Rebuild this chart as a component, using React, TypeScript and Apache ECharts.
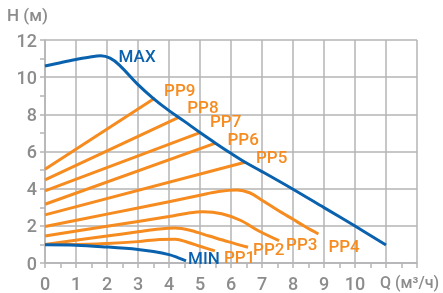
import React, { useEffect, useRef } from "react";
import * as echarts from "echarts";

const xTicks = [0, 1, 2, 3, 4, 5, 6, 7, 8, 9, 10];
const yTicks = [0, 2, 4, 6, 8, 10, 12];

const maxCurve = [[0, 10.6], [0.5, 10.78], [1, 10.95], [1.5, 11.1], [1.8, 11.15], [2.1, 11.02], [2.4, 10.65], [3, 9.6], [3.5, 8.85], [4, 8.2], [4.5, 7.62], [5, 7.02], [5.5, 6.45], [6, 5.9], [6.5, 5.38], [7, 4.92], [8, 3.97], [9, 2.98], [10, 1.99], [11, 0.97]];
const maxLabelAt = [2.1, 11.02];
const minCurve = [[0, 0.98], [1, 0.96], [2, 0.86], [3, 0.73], [3.5, 0.62], [4, 0.45], [4.3, 0.28], [4.55, 0.12]];
const pp9 = [[0, 5.05], [3.55, 8.88]];
const pp8 = [[0, 4.47], [4.33, 7.85]];
const pp7 = [[0, 3.88], [5.0, 7.02]];
const pp6 = [[0, 3.16], [5.5, 6.45]];
const pp5 = [[0, 2.59], [6.45, 5.42]];
const pp4 = [[0, 1.96], [2, 2.63], [4, 3.3], [5, 3.65], [5.6, 3.85], [6.2, 3.93], [6.6, 3.78], [7, 3.38], [7.5, 2.85], [8, 2.35], [8.4, 1.95], [8.82, 1.56]];
const pp3 = [[0, 1.45], [2, 1.98], [4, 2.5], [4.6, 2.68], [5.1, 2.76], [5.7, 2.65], [6.3, 2.3], [6.9, 1.72], [7.55, 1.2]];
const pp2 = [[0, 1.0], [2, 1.45], [3, 1.68], [3.7, 1.83], [4.2, 1.88], [4.7, 1.75], [5.3, 1.45], [5.9, 1.15], [6.55, 0.85]];
const pp1 = [[0, 1.0], [1, 1.0], [2, 1.05], [3, 1.15], [3.7, 1.27], [4.2, 1.28], [4.6, 1.12], [5, 0.9], [5.48, 0.65]];

const ppSeries = [
  { name: "PP9", data: pp9, offset: [1, -8] },
  { name: "PP8", data: pp8, offset: [0, -10] },
  { name: "PP7", data: pp7, offset: [2, -12] },
  { name: "PP6", data: pp6, offset: [4, -4] },
  { name: "PP5", data: pp5, offset: [3, -5] },
  { name: "PP4", data: pp4, offset: [2, 12] },
  { name: "PP3", data: pp3, offset: [-1, 3] },
  { name: "PP2", data: pp2, offset: [-3, 2] },
  { name: "PP1", data: pp1, offset: [1, 6] },
];

const FONT = "Roboto, 'Liberation Sans', sans-serif";
const GRAY = "#8c8c8c";
const GRID = "#b4b4b6";
const ORANGE = "#f68b1f";
const BLUE = "#0a62ae";

export default function App() {
  const ref = useRef<HTMLDivElement>(null);
  useEffect(() => {
    if (!ref.current) return;
    const chart = echarts.init(ref.current, undefined, { renderer: "svg" });
    const series: any[] = ppSeries.map((s) => ({
      type: "line",
      name: s.name,
      data: s.data,
      showSymbol: false,
      smooth: s.data.length > 2 ? 0.35 : false,
      lineStyle: { color: ORANGE, width: 3 },
      itemStyle: { color: ORANGE },
      endLabel: {
        show: true,
        formatter: s.name,
        color: ORANGE,
        fontFamily: FONT,
        fontWeight: 500,
        fontSize: 17,
        offset: s.offset,
      },
      z: 2,
    }));
    series.push({
      type: "line",
      name: "MIN",
      data: minCurve,
      showSymbol: false,
      smooth: 0.35,
      lineStyle: { color: BLUE, width: 3 },
      itemStyle: { color: BLUE },
      endLabel: { show: true, formatter: "MIN", color: BLUE, fontFamily: FONT, fontWeight: 500, fontSize: 17, offset: [-6, -3] },
      z: 3,
    });
    series.push({
      type: "line",
      name: "MAX",
      data: maxCurve,
      showSymbol: false,
      smooth: 0.35,
      lineStyle: { color: BLUE, width: 3 },
      itemStyle: { color: BLUE },
      markPoint: {
        symbol: "circle",
        symbolSize: 1,
        itemStyle: { color: "rgba(0,0,0,0)" },
        data: [
          {
            coord: maxLabelAt,
            label: {
              show: true,
              position: "right",
              distance: 5,
              formatter: "MAX",
              color: BLUE,
              fontFamily: FONT,
              fontWeight: 500,
              fontSize: 17,
              offset: [3, -2],
            },
          },
        ],
      },
      z: 3,
    });
    chart.setOption({
      animation: false,
      grid: { left: 45, right: 26, top: 40, bottom: 30, containLabel: false },
      xAxis: {
        type: "value",
        min: 0,
        max: 12,
        interval: 1,
        axisLine: { show: true, lineStyle: { color: GRID, width: 1.5 } },
        axisTick: { show: true, length: 5, lineStyle: { color: GRID, width: 1.5 } },
        minorTick: { show: true, splitNumber: 2, length: 5, lineStyle: { color: GRID, width: 1.5 } },
        splitLine: { show: true, lineStyle: { color: GRID, width: 1.5 } },
        axisLabel: {
          color: GRAY,
          fontFamily: FONT,
          fontWeight: 500,
          fontSize: 18,
          margin: 11,
          formatter: (v: number) => (xTicks.includes(v) ? String(v) : ""),
        },
      },
      yAxis: {
        type: "value",
        min: 0,
        max: 12,
        interval: 2,
        axisLine: { show: true, lineStyle: { color: GRID, width: 1.5 } },
        axisTick: { show: true, length: 5, lineStyle: { color: GRID, width: 1.5 } },
        minorTick: { show: true, splitNumber: 2, length: 5, lineStyle: { color: GRID, width: 1.5 } },
        splitLine: { show: true, lineStyle: { color: GRID, width: 1.5 } },
        axisLabel: {
          color: GRAY,
          fontFamily: FONT,
          fontWeight: 500,
          fontSize: 18,
          margin: 8,
          formatter: (v: number) => (yTicks.includes(v) ? String(v) : ""),
        },
      },
      graphic: [
        { type: "text", left: 7, top: 6, style: { text: "H (м)", fill: GRAY, font: `500 17px ${FONT}` } },
        { type: "text", left: 380, top: 274, style: { text: "Q (м³/ч)", fill: GRAY, font: `500 16px ${FONT}` } },
      ],
      series,
    });
    return () => chart.dispose();
  }, []);
  return <div ref={ref} style={{ position: "fixed", left: 0, top: 0, width: 443, height: 293 }} />;
}
